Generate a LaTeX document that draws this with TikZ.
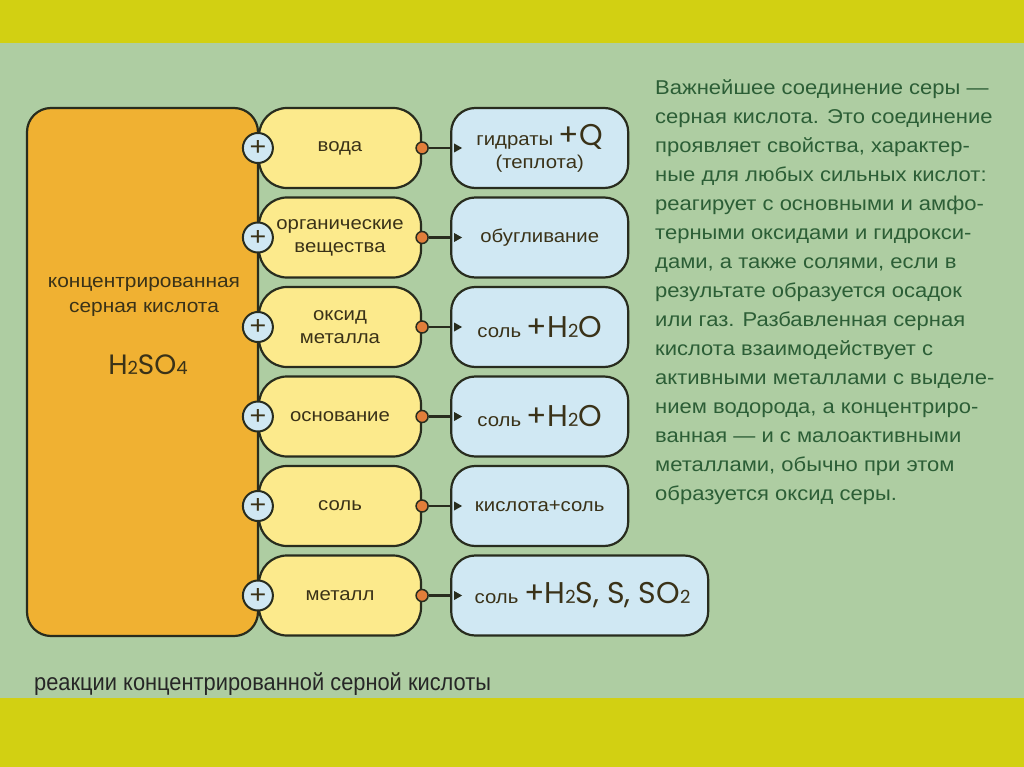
\documentclass[tikz,border=0pt]{standalone}
\usepackage{fontspec}
\setmainfont[FakeStretch=1.1]{Liberation Sans}
\newfontfamily\capfont[FakeStretch=0.91]{Liberation Sans}
\newfontfamily\chemfont{Poppins}
\usetikzlibrary{positioning}

\definecolor{band}{RGB}{210,208,18}
\definecolor{field}{RGB}{174,205,162}
\definecolor{acid}{RGB}{240,177,50}
\definecolor{reag}{RGB}{252,234,140}
\definecolor{prod}{RGB}{208,232,243}
\definecolor{edge}{RGB}{40,44,30}
\definecolor{jointc}{RGB}{226,126,58}
\definecolor{ink}{RGB}{58,50,24}
\definecolor{notegreen}{RGB}{44,94,54}

\newcommand\chemsize{\chemfont\fontsize{30}{30}\selectfont}
\newcommand\subd[1]{{\fontsize{18}{18}\selectfont #1}}

\begin{document}
\begin{tikzpicture}[x=1pt, y=-1pt,
  every node/.style={font=\fontsize{18.5}{23}\selectfont, text=ink},
  acidbox/.style={rectangle, rounded corners=24pt, draw=edge, line width=2.2pt,
                  fill=acid, minimum width=231pt, minimum height=528pt},
  reagent/.style={rectangle, rounded corners=28pt, draw=edge, line width=2.2pt,
                  fill=reag, minimum width=162pt, minimum height=80pt, align=center},
  product/.style={rectangle, rounded corners=24pt, draw=edge, line width=2.2pt,
                  fill=prod, minimum width=177pt, minimum height=80pt, align=center},
  pluscirc/.style={circle, draw=edge, line width=2pt, fill=prod, minimum size=30pt,
                   inner sep=0pt, font=\fontsize{26}{26}\selectfont},
  joint/.style={circle, draw=edge, line width=1.5pt, fill=jointc, minimum size=12pt,
                inner sep=0pt},
  link/.style={draw=edge, line width=2.2pt},
  note/.style={font=\fontsize{20}{29}\selectfont, text=notegreen, align=left,
               inner sep=0pt},
  caption/.style={font=\capfont\fontsize{24}{24}\selectfont, text=black!85, inner sep=0pt}
]

\useasboundingbox (0,0) rectangle (1024,767);
\fill[field] (0,0) rectangle (1024,767);
\fill[band]  (0,0) rectangle (1024,43);
\fill[band]  (0,698) rectangle (1024,767);

% acid block
\node[acidbox] (A) at (142.5,372) {};
\node[align=center, font=\fontsize{19}{25}\selectfont] (Aname) at (144,297)
  {концентрированная\\серная кислота};
\node (Aform) at (148,365) {\chemfont\fontsize{28}{28}\selectfont H\subd{2}SO\subd{4}};

% reagents
\node[reagent]                     (R1) at (340,148) {вода};
\node[reagent, below=7.3pt of R1]  (R2) {органические\\вещества};
\node[reagent, below=7.3pt of R2]  (R3) {оксид\\металла};
\node[reagent, below=7.3pt of R3]  (R4) {основание};
\node[reagent, below=7.3pt of R4]  (R5) {соль};
\node[reagent, below=7.3pt of R5]  (R6) {металл};

% products
\node[product, right=28pt of R1] (P1) {гидраты {\chemsize +Q}\\(теплота)};
\node[product, right=28pt of R2] (P2) {обугливание};
\node[product, right=28pt of R3] (P3) {соль {\chemsize +H\subd{2}O}};
\node[product, right=28pt of R4] (P4) {соль {\chemsize +H\subd{2}O}};
\node[product, right=28pt of R5] (P5) {кислота+соль};
\node[product, right=28pt of R6, minimum width=257pt] (P6)
  {\ соль {\chemsize +H\subd{2}S, S, SO\subd{2}}};

% plus marks
\node[pluscirc] (Q1) at (R1.west) {+};
\node[pluscirc] (Q2) at (R2.west) {+};
\node[pluscirc] (Q3) at (R3.west) {+};
\node[pluscirc] (Q4) at (R4.west) {+};
\node[pluscirc] (Q5) at (R5.west) {+};
\node[pluscirc] (Q6) at (R6.west) {+};

% joints and links
\node[joint] (J1) at (R1.east) {};
\node[joint] (J2) at (R2.east) {};
\node[joint] (J3) at (R3.east) {};
\node[joint] (J4) at (R4.east) {};
\node[joint] (J5) at (R5.east) {};
\node[joint] (J6) at (R6.east) {};

\draw[link] (J1) -- (P1);
\draw[link] (J2) -- (P2);
\draw[link] (J3) -- (P3);
\draw[link] (J4) -- (P4);
\draw[link] (J5) -- (P5);
\draw[link] (J6) -- (P6);

\fill[edge] ([shift={(4,-4.5)}]P1.west) -- ++(8,4.5) -- ++(-8,4.5) -- cycle;
\fill[edge] ([shift={(4,-4.5)}]P2.west) -- ++(8,4.5) -- ++(-8,4.5) -- cycle;
\fill[edge] ([shift={(4,-4.5)}]P3.west) -- ++(8,4.5) -- ++(-8,4.5) -- cycle;
\fill[edge] ([shift={(4,-4.5)}]P4.west) -- ++(8,4.5) -- ++(-8,4.5) -- cycle;
\fill[edge] ([shift={(4,-4.5)}]P5.west) -- ++(8,4.5) -- ++(-8,4.5) -- cycle;
\fill[edge] ([shift={(4,-4.5)}]P6.west) -- ++(8,4.5) -- ++(-8,4.5) -- cycle;

% text
\node[note, anchor=north west] (N) at (655,79)
  {Важнейшее соединение серы —\\
   серная кислота. Это соединение\\
   проявляет свойства, характер-\\
   ные для любых сильных кислот:\\
   реагирует с основными и амфо-\\
   терными оксидами и гидрокси-\\
   дами, а также солями, если в\\
   результате образуется осадок\\
   или газ. Разбавленная серная\\
   кислота взаимодействует с\\
   активными металлами с выделе-\\
   нием водорода, а концентриро-\\
   ванная — и с малоактивными\\
   металлами, обычно при этом\\
   образуется оксид серы.};

\node[caption, anchor=base west] (C) at (34,690)
  {реакции концентрированной серной кислоты};

\end{tikzpicture}
\end{document}
